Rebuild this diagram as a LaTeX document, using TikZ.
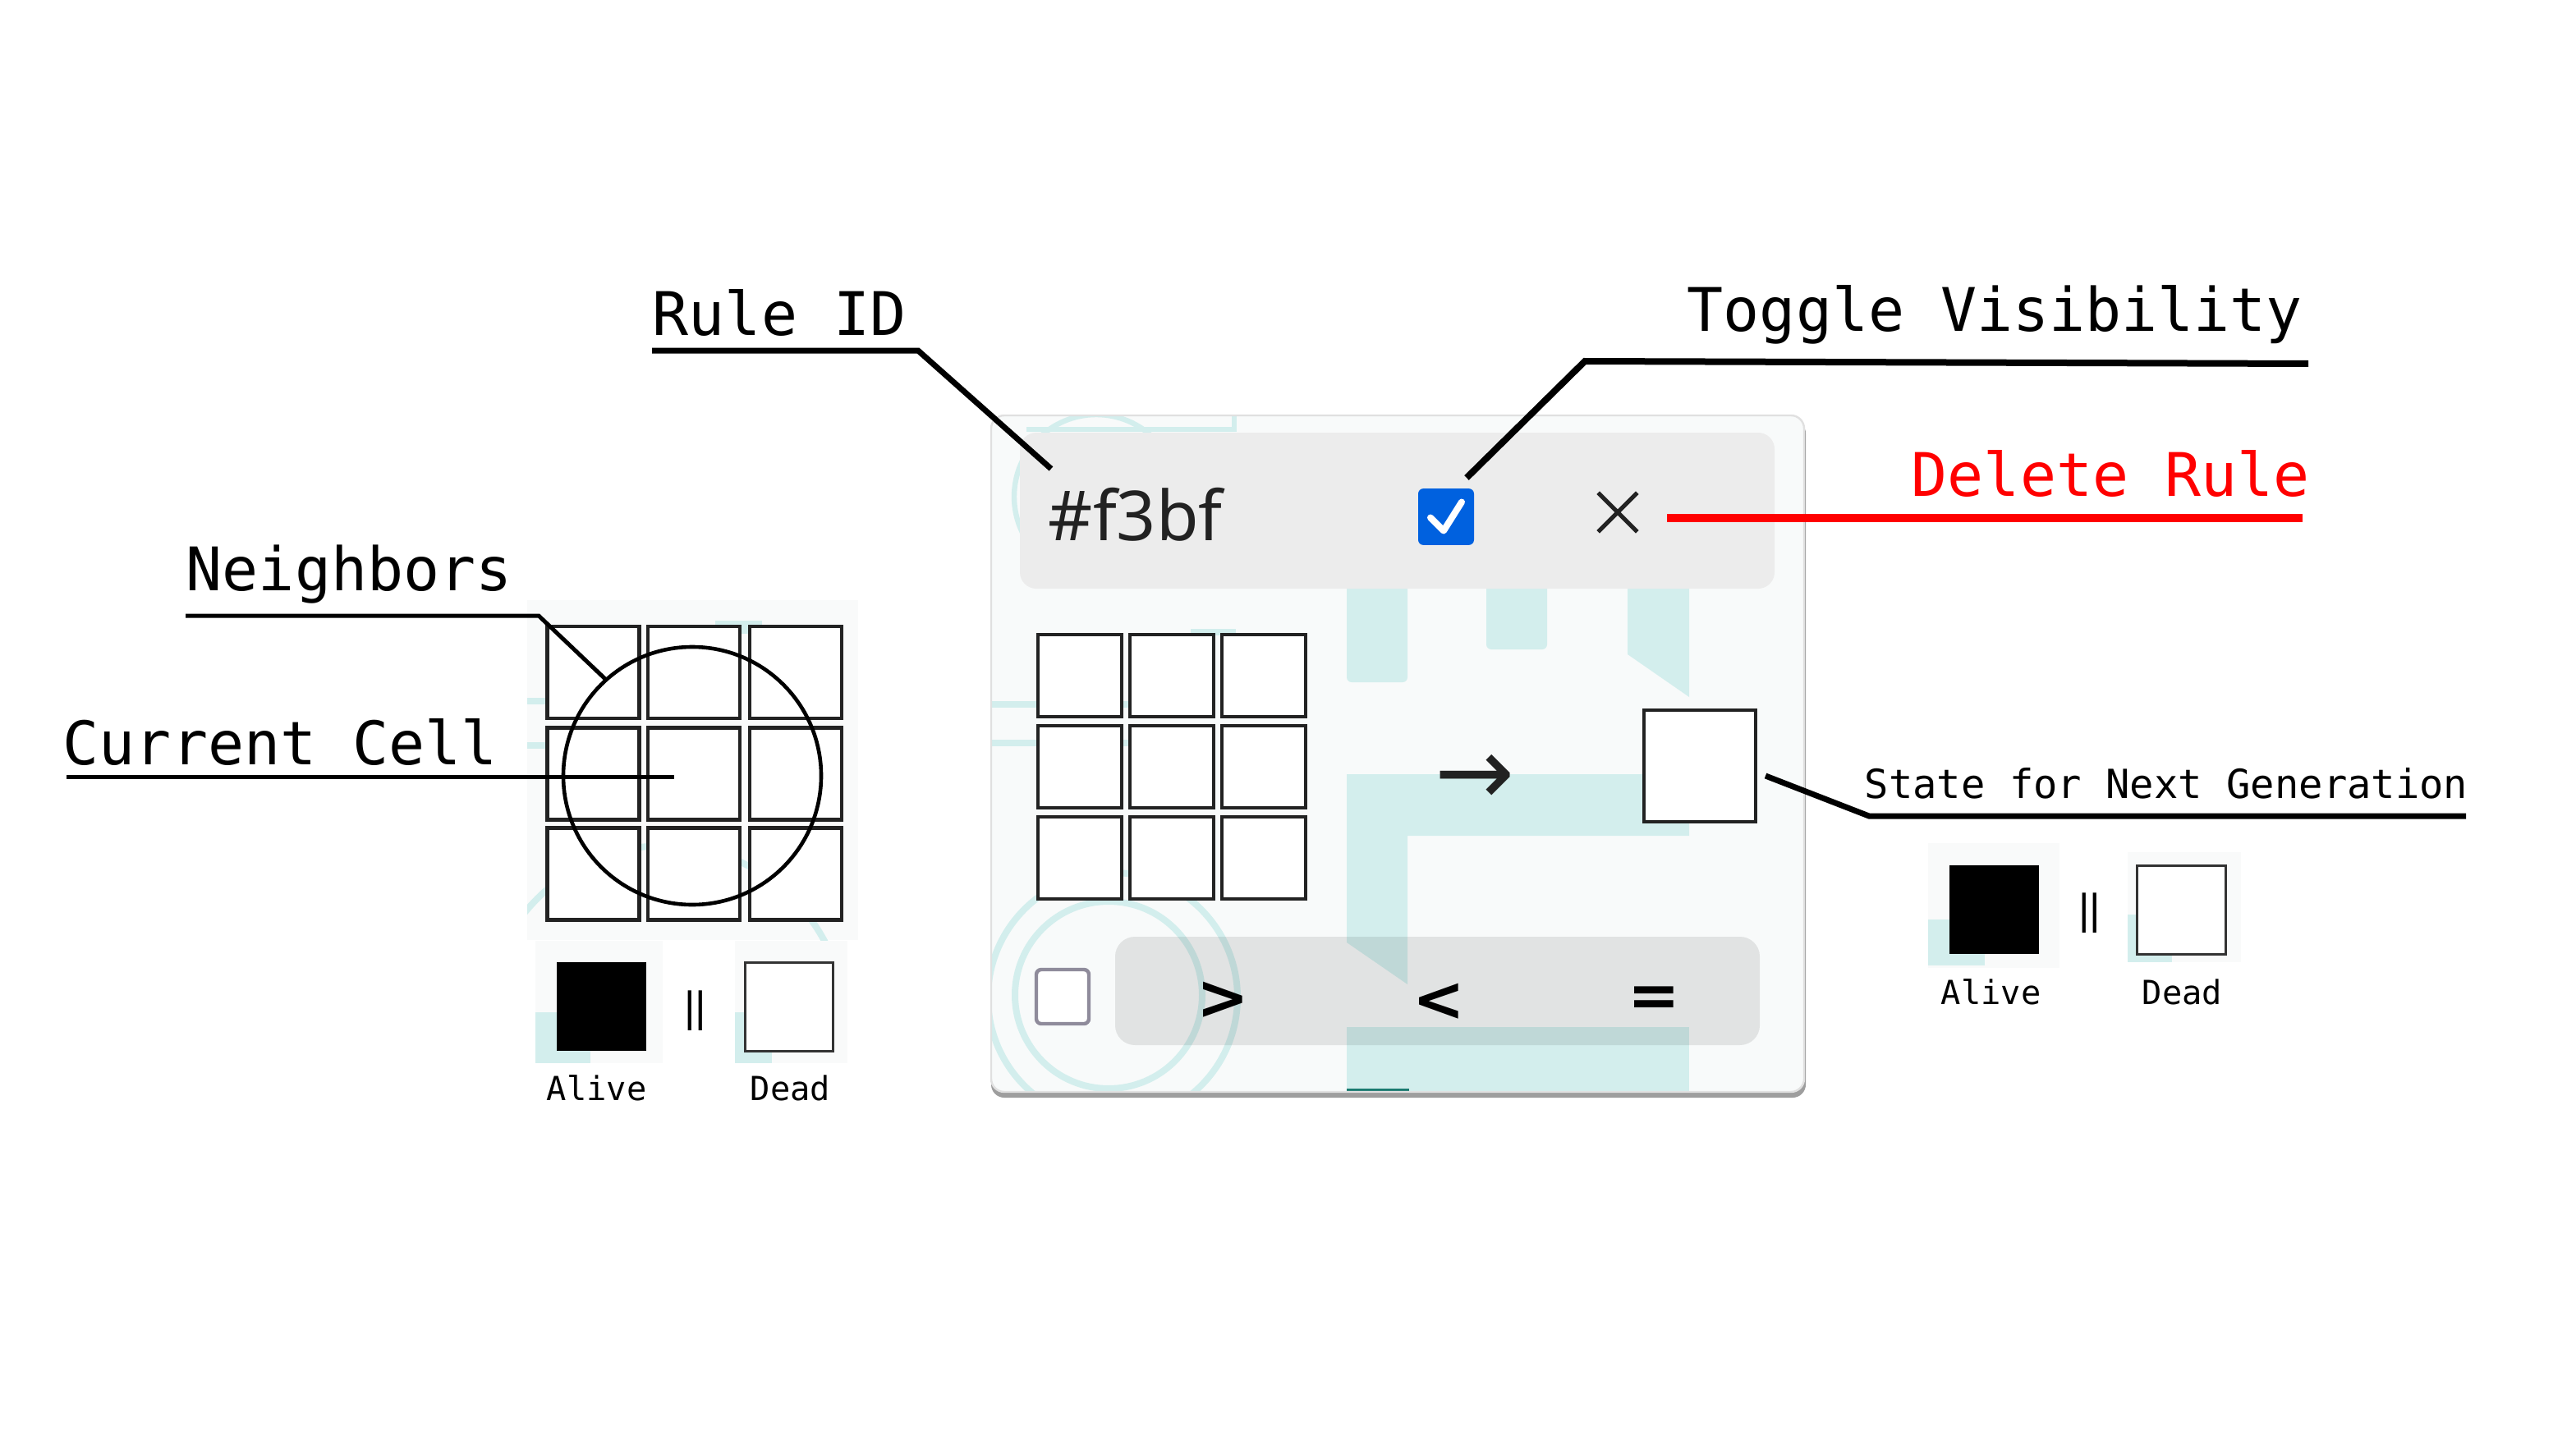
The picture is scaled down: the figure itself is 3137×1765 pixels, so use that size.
\documentclass[tikz,border=0pt]{standalone}
\usepackage{fontspec}
\setmonofont{DejaVu Sans Mono}
\newfontfamily\uifont{Noto Sans}
\newfontfamily\glyphfont{DejaVu Sans}
\newfontfamily\barfont{Liberation Sans}
\definecolor{tealbg}{HTML}{D3EEED}
\definecolor{tealdark}{HTML}{1A7A70}
\definecolor{panelbg}{HTML}{F8FAFA}
\definecolor{headbg}{HTML}{ECECEC}
\definecolor{chkblue}{HTML}{0061DF}
\definecolor{chkgrey}{HTML}{8F8B9B}
\definecolor{uitext}{HTML}{222222}
\definecolor{faintbg}{HTML}{F9FAFA}
\tikzset{
  biglabel/.style={anchor=base west, inner sep=0pt, font=\ttfamily\fontsize{18.3}{22}\selectfont},
  midlabel/.style={anchor=base west, inner sep=0pt, font=\ttfamily\fontsize{12.2}{15}\selectfont},
  smalllabel/.style={anchor=base west, inner sep=0pt, font=\ttfamily\fontsize{10.1}{12}\selectfont},
  leader/.style={line width=1.75pt, black},
  thinleader/.style={line width=1.25pt, black},
  cellL/.style={draw=uitext, fill=white, line width=1.1pt, minimum width=28pt, minimum height=28pt, inner sep=0pt},
  cellP/.style={draw=uitext, fill=white, line width=1pt, minimum width=25.5pt, minimum height=25pt, inner sep=0pt},
  alivebox/.style={fill=black, minimum width=27.2pt, minimum height=27pt, inner sep=0pt},
  deadbox/.style={draw=black!80, fill=white, line width=0.75pt, minimum width=26.8pt, minimum height=26.8pt, inner sep=0pt},
  barsym/.style={inner sep=0pt, font=\barfont\fontsize{13}{15}\selectfont},
  teal/.style={fill=tealbg},
  tealline/.style={draw=tealbg, line width=2pt},
  opsym/.style={inner sep=0pt, font=\glyphfont\bfseries\fontsize{19}{22}\selectfont, text=black},
}
\begin{document}
\begin{tikzpicture}[x=0.25pt,y=-0.25pt]
\useasboundingbox (0,0) rectangle (3137,1765);
\fill[white] (0,0) rectangle (3137,1765);

% ---------- faint screenshot backgrounds on the left ----------
\fill[faintbg] (642,731) rectangle (1045,1145);
\begin{scope}
  \clip (642,731) rectangle (1045,1145);
  \draw[tealline] (810,1250) circle[radius=220];
  \fill[teal] (871,756) rectangle (928,772);
  \draw[tealline] (642,854) -- (690,854);
  \draw[tealline] (642,908) -- (690,908);
\end{scope}
\fill[faintbg] (652,1146) rectangle (807,1295);
\fill[faintbg] (895,1146) rectangle (1032,1295);
\fill[teal] (652,1233) rectangle (719,1295);
\fill[teal] (895,1233) rectangle (940,1295);
% right legend backgrounds
\fill[faintbg] (2348,1027) rectangle (2508,1179);
\fill[faintbg] (2591,1038) rectangle (2729,1172);
\fill[teal] (2348,1120) rectangle (2417,1176);
\fill[teal] (2591,1114) rectangle (2645,1172);

% ---------- the rule panel ----------
\fill[black!38, rounded corners=4pt] (1207,512) rectangle (2199,1337);
\fill[panelbg, rounded corners=4pt] (1207,506) rectangle (2197,1330);
\begin{scope}
  \clip[rounded corners=4pt] (1207,506) rectangle (2197,1330);
  % decorative teal background of the app
  \draw[tealline, line width=1.6pt] (1335,605) circle[radius=100];
  \draw[tealline, line width=1.6pt] (1250,523) -- (1503,523) -- (1503,500);
  \draw[tealline] (1207,858) -- (1400,858);
  \draw[tealline] (1207,905) -- (1400,905);
  \fill[teal] (1450,766) rectangle (1505,774);
  \fill[teal, rounded corners=1.5pt] (1640,700) rectangle (1714,831);
  \fill[teal, rounded corners=1.5pt] (1810,700) rectangle (1884,791);
  \fill[teal] (1982,700) -- (2057,700) -- (2057,849) -- (1982,797) -- cycle;
  \fill[teal] (1640,943) -- (2057,943) -- (2057,1018) -- (1714,1018) -- (1714,1199) -- (1640,1148) -- cycle;
  \fill[teal] (1640,1251) rectangle (2057,1340);
  \fill[tealdark] (1640,1326) rectangle (1716,1340);
  \draw[tealline] (1350,1212) circle[radius=114];
  \draw[tealline] (1355,1215) circle[radius=152];
\end{scope}
\draw[black!12, line width=0.6pt, rounded corners=4pt] (1207,506) rectangle (2197,1330);

% header bar
\fill[headbg, rounded corners=5pt] (1242,527) rectangle (2161,717);
\node[anchor=base west, inner sep=0pt, font=\uifont\fontsize{21}{25}\selectfont, text=uitext] (ruleid) at (1276,658) {\#f3bf};
\node[fill=chkblue, rounded corners=1.6pt, minimum width=17pt, minimum height=17.2pt, inner sep=0pt] (visible) at (1761,629.5) {};
\draw[white, line width=2pt, line cap=round, line join=round]
  ([shift={(-19,1)}]visible.center) -- ([shift={(-3,17)}]visible.center) -- ([shift={(19,-18)}]visible.center);
\node[minimum width=11.5pt, minimum height=11.5pt, inner sep=0pt] (delete) at (1970,624) {};
\draw[uitext, line width=1.3pt] (delete.north west) -- (delete.south east);
\draw[uitext, line width=1.3pt] (delete.south west) -- (delete.north east);

% rule grid inside the panel
\foreach \i/\x in {1/1315,2/1426.5,3/1538.5}{
  \foreach \j/\y in {1/823,2/934,3/1045}{
    \node[cellP] (P\i\j) at (\x,\y) {};
  }
}
\node[inner sep=0pt, font=\glyphfont\fontsize{29}{32}\selectfont, text=uitext] (arrow) at (1796,950) {→};
\node[draw=uitext, fill=white, line width=1pt, minimum width=34pt, minimum height=33.8pt, inner sep=0pt] (next) at (2070,933) {};

% bottom bar
\fill[black, fill opacity=0.09, rounded corners=6pt] (1358,1141) rectangle (2143,1273);
\node[draw=chkgrey, fill=white, line width=1.1pt, rounded corners=1.5pt, minimum width=16pt, minimum height=16.5pt, inner sep=0pt] (cond) at (1294,1214) {};
\node[opsym] (gt) at (1489,1219) {>};
\node[opsym] (lt) at (1752,1221) {<};
\node[opsym] (eq) at (2014,1220) {=};

% ---------- left neighbourhood diagram ----------
\foreach \i/\x in {1/722.5,2/845,3/969}{
  \foreach \j/\y in {1/819,2/942.5,3/1064.5}{
    \node[cellL] (L\i\j) at (\x,\y) {};
  }
}
\node[draw=black, line width=1.15pt, circle, minimum size=78.5pt, inner sep=0pt] (hood) at (843,945) {};

% legends
\node[alivebox] (aliveL) at (732.5,1226) {};
\node[barsym] (barL) at (846.5,1231) {||};
\node[deadbox] (deadL) at (961,1226.5) {};
\node[smalllabel] (aliveLt) at (665,1340) {Alive};
\node[smalllabel] (deadLt) at (913,1340) {Dead};

\node[alivebox] (aliveR) at (2428.5,1107.5) {};
\node[barsym] (barR) at (2544.5,1112.5) {||};
\node[deadbox] (deadR) at (2656.5,1108.5) {};
\node[smalllabel] (aliveRt) at (2363,1223) {Alive};
\node[smalllabel] (deadRt) at (2608,1223) {Dead};

% ---------- labels ----------
\node[biglabel] (lblRule) at (794,408) {Rule ID};
\node[biglabel] (lblToggle) at (2054,403) {Toggle Visibility};
\node[biglabel, text=red] (lblDelete) at (2327,604) {Delete Rule};
\node[biglabel] (lblNeigh) at (226,719) {Neighbors};
\node[biglabel] (lblCur) at (76,931) {Current Cell};
\node[midlabel] (lblState) at (2270,972) {State for Next Generation};

% ---------- leader lines ----------
\coordinate (r1) at (794,427);
\coordinate (r2) at (1118,427);
\coordinate (r3) at (1280,571);
\draw[leader] (r1) -- (r2) -- (r3);

\coordinate (t1) at (2811,443);
\coordinate (t2) at (1930,440);
\coordinate (t3) at (1786,582);
\draw[leader, line width=2pt] (t1) -- (t2) -- (t3);

\coordinate (d1) at (2030,631);
\coordinate (d2) at (2804,631);
\draw[red, line width=2.5pt] (d1) -- (d2);

\coordinate (s1) at (3003,994);
\coordinate (s2) at (2276,994);
\coordinate (s3) at (2150,945);
\draw[leader] (s1) -- (s2) -- (s3);

\coordinate (n1) at (226,750);
\coordinate (n2) at (656,750);
\coordinate (n3) at (737,827);
\draw[thinleader] (n1) -- (n2) -- (n3);

\coordinate (c1) at (81,946);
\coordinate (c2) at (821,946);
\draw[thinleader] (c1) -- (c2);
\end{tikzpicture}
\end{document}
